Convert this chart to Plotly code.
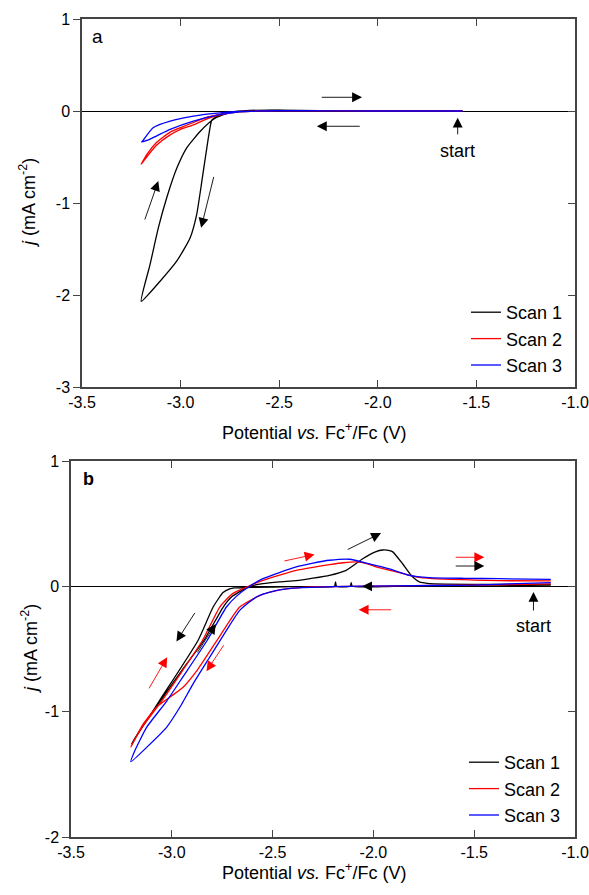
import plotly.graph_objects as go

# ---------------- Panel a data ----------------
A_SCAN1_V = [-1.57, -2.0, -2.4, -2.55, -2.65, -2.72, -2.76, -2.80, -2.825, -2.842, -2.867, -2.892, -2.918, -2.952, -3.019, -3.104, -3.200,
             -3.155, -3.113, -3.070, -3.019, -2.969, -2.900, -2.833, -2.783, -2.730, -2.650, -2.500, -2.300, -2.000, -1.570]
A_SCAN1_J = [0.0, 0.0, 0.004, 0.01, 0.006, -0.004, -0.015, -0.04, -0.07, -0.10, -0.40, -0.76, -1.12, -1.38, -1.63, -1.85, -2.07,
             -1.67, -1.27, -0.94, -0.62, -0.40, -0.22, -0.09, -0.04, -0.01, 0.002, 0.01, 0.005, 0.0, 0.0]

A_SCAN2_V = [-1.57, -2.0, -2.4, -2.6, -2.7, -2.78, -2.86, -2.935, -3.0, -3.053, -3.121, -3.172, -3.20,
             -3.17, -3.121, -3.053, -3.0, -2.935, -2.86, -2.78, -2.7, -2.6, -2.4, -2.0, -1.57]
A_SCAN2_J = [0.0, 0.0, 0.004, 0.0, -0.01, -0.035, -0.08, -0.15, -0.2, -0.26, -0.37, -0.5, -0.58,
             -0.47, -0.34, -0.23, -0.18, -0.125, -0.065, -0.025, -0.005, 0.0, 0.004, 0.0, 0.0]

A_SCAN3_V = [-1.57, -2.0, -2.4, -2.6, -2.7, -2.80, -2.935, -3.053, -3.121, -3.17, -3.197,
             -3.19, -3.17, -3.138, -3.053, -2.935, -2.80, -2.7, -2.6, -2.4, -2.0, -1.57]
A_SCAN3_J = [0.0, 0.0, 0.004, 0.0, -0.01, -0.04, -0.11, -0.20, -0.27, -0.32, -0.335,
             -0.32, -0.26, -0.18, -0.11, -0.055, -0.02, -0.005, 0.0, 0.004, 0.0, 0.0]

# ---------------- Panel b data ----------------
B_SCAN1_V = [-1.12, -1.5, -1.9, -2.105, -2.11, -2.115, -2.183, -2.188, -2.193, -2.4, -2.6, -2.69, -2.713, -2.746, -2.795, -2.870, -3.063, -3.20,
             -3.15, -3.05, -2.95, -2.84, -2.745, -2.70, -2.65, -2.614, -2.548, -2.465, -2.383, -2.30, -2.218, -2.135, -2.053, -1.990, -1.954,
             -1.920, -1.904, -1.855, -1.813, -1.772, -1.723, -1.64, -1.40, -1.12]
B_SCAN1_J = [0.01, 0.003, 0.0, 0.0, 0.03, 0.0, 0.0, 0.035, 0.0, -0.003, -0.008, -0.013, -0.02, -0.05, -0.165, -0.432, -0.917, -1.26,
             -1.13, -0.90, -0.67, -0.43, -0.165, -0.08, -0.03, 0.0, 0.021, 0.035, 0.045, 0.065, 0.088, 0.128, 0.22, 0.275, 0.290,
             0.285, 0.275, 0.18, 0.088, 0.035, 0.022, 0.018, 0.015, 0.013]

B_SCAN2_V = [-1.12, -1.5, -1.9, -2.1, -2.3, -2.45, -2.55, -2.663, -2.776, -2.87, -2.944, -3.01, -3.076, -3.142, -3.203,
             -3.15, -3.051, -2.95, -2.848, -2.762, -2.70, -2.62, -2.548, -2.465, -2.383, -2.30, -2.218, -2.15, -2.086, -2.03,
             -1.987, -1.888, -1.789, -1.706, -1.50, -1.376, -1.12]
B_SCAN2_J = [0.02, 0.01, 0.004, 0.0, -0.005, -0.025, -0.065, -0.165, -0.432, -0.66, -0.805, -0.885, -0.965, -1.10, -1.28,
             -1.13, -0.917, -0.68, -0.432, -0.165, -0.06, 0.0, 0.048, 0.09, 0.128, 0.152, 0.173, 0.188, 0.195, 0.18,
             0.155, 0.115, 0.075, 0.061, 0.05, 0.045, 0.043]

B_SCAN3_V = [-1.12, -1.5, -1.9, -2.2, -2.4, -2.50, -2.581, -2.663, -2.729, -2.812, -2.895, -2.960, -3.026, -3.125, -3.203,
             -3.183, -3.125, -3.026, -2.944, -2.825, -2.729, -2.68, -2.614, -2.548, -2.383, -2.30, -2.218, -2.119, -2.020,
             -1.921, -1.822, -1.723, -1.55, -1.376, -1.12]
B_SCAN3_J = [0.03, 0.01, 0.004, -0.002, -0.015, -0.04, -0.085, -0.192, -0.352, -0.565, -0.78, -0.965, -1.125, -1.285, -1.40,
             -1.31, -1.125, -0.917, -0.72, -0.432, -0.165, -0.08, 0.0, 0.061, 0.155, 0.185, 0.208, 0.216, 0.18,
             0.14, 0.088, 0.07, 0.064, 0.061, 0.056]

SCAN_NAMES = ["Scan 1", "Scan 2", "Scan 3"]
SCAN_COLORS = ["#000000", "#ff0000", "#0000ff"]

X_TICKS = [-3.5, -3.0, -2.5, -2.0, -1.5, -1.0]
X_TICK_TEXT = ["-3.5", "-3.0", "-2.5", "-2.0", "-1.5", "-1.0"]
A_Y_TICKS = [-3, -2, -1, 0, 1]
A_Y_TICK_TEXT = ["-3", "-2", "-1", "0", "1"]
B_Y_TICKS = [-2, -1, 0, 1]
B_Y_TICK_TEXT = ["-2", "-1", "0", "1"]

# arrows: (tail_x, tail_y, head_x, head_y, color)
ARROWS_A = [
    (-3.184, -1.196, -3.113, -0.761, "black"),
    (-2.830, -0.70, -2.896, -1.27, "black"),
    (-2.292, 0.149, -2.080, 0.149, "black"),
    (-2.084, -0.166, -2.309, -0.166, "black"),
    (-1.595, -0.27, -1.595, -0.073, "black"),
]
ARROWS_B = [
    (-2.135, 0.288, -1.962, 0.425, "black"),
    (-2.449, 0.200, -2.292, 0.254, "red"),
    (-1.599, 0.232, -1.450, 0.232, "red"),
    (-1.599, 0.162, -1.450, 0.162, "black"),
    (-1.904, -0.187, -2.073, -0.187, "red"),
    (-1.990, 0.0, -2.056, 0.0, "black"),
    (-1.206, -0.205, -1.206, -0.045, "black"),
    (-2.881, -0.20, -2.977, -0.44, "black"),
    (-2.878, -0.54, -2.782, -0.30, "black"),
    (-3.117, -0.826, -3.023, -0.565, "red"),
    (-2.738, -0.458, -2.828, -0.677, "red"),
]

FONT = "Liberation Sans, Arial, sans-serif"
W, H = 589, 895

fig = go.Figure()

a_data = [(A_SCAN1_V, A_SCAN1_J), (A_SCAN2_V, A_SCAN2_J), (A_SCAN3_V, A_SCAN3_J)]
b_data = [(B_SCAN1_V, B_SCAN1_J), (B_SCAN2_V, B_SCAN2_J), (B_SCAN3_V, B_SCAN3_J)]

for (v, j), name, col in zip(a_data, SCAN_NAMES, SCAN_COLORS):
    fig.add_trace(go.Scatter(x=v, y=j, mode="lines", name=name,
                             line=dict(color=col, width=1.3, shape="spline", smoothing=0.5),
                             xaxis="x", yaxis="y", legend="legend"))
for (v, j), name, col in zip(b_data, SCAN_NAMES, SCAN_COLORS):
    fig.add_trace(go.Scatter(x=v, y=j, mode="lines", name=name,
                             line=dict(color=col, width=1.3, shape="spline", smoothing=0.5),
                             xaxis="x2", yaxis="y2", legend="legend2"))

AX_COL = "#444444"
TICK_FONT = dict(family=FONT, size=16, color="black")
common_x = dict(range=[-3.5, -1.0], tickvals=X_TICKS, ticktext=X_TICK_TEXT, ticks="inside", ticklen=7,
                tickwidth=1, tickcolor=AX_COL, showline=True, linecolor=AX_COL, linewidth=1.5, mirror="ticks",
                showgrid=False, zeroline=False, tickfont=TICK_FONT, automargin=False)
common_y = dict(ticks="outside", ticklen=7, tickwidth=1, tickcolor=AX_COL, showline=True, linecolor=AX_COL,
                linewidth=1.5, mirror=True, showgrid=False, zeroline=True, zerolinecolor="black", zerolinewidth=1,
                tickfont=TICK_FONT, automargin=False)
right_y = dict(ticks="inside", ticklen=7, tickwidth=1, tickcolor=AX_COL, showline=False, showgrid=False,
               zeroline=False, showticklabels=False, side="right", automargin=False)

xa = [82 / W, 575 / W]
xb = [71 / W, 575 / W]
ya = [1 - 387 / H, 1 - 19 / H]
yb = [1 - 837 / H, 1 - 461 / H]

fig.update_layout(
    width=W, height=H, margin=dict(l=0, r=0, t=0, b=0, autoexpand=False),
    paper_bgcolor="white", plot_bgcolor="white",
    font=dict(family=FONT, size=16, color="black"),
    xaxis=dict(domain=xa, anchor="y", **common_x),
    yaxis=dict(domain=ya, anchor="x", range=[-3, 1], tickvals=A_Y_TICKS, ticktext=A_Y_TICK_TEXT, **common_y),
    xaxis2=dict(domain=xb, anchor="y2", **common_x),
    yaxis2=dict(domain=yb, anchor="x2", range=[-2, 1], tickvals=B_Y_TICKS, ticktext=B_Y_TICK_TEXT, **common_y),
    yaxis3=dict(overlaying="y", anchor="x", range=[-3, 1], tickvals=A_Y_TICKS, **right_y),
    yaxis4=dict(overlaying="y2", anchor="x2", range=[-2, 1], tickvals=B_Y_TICKS, **right_y),
    legend=dict(x=466 / W, y=1 - 294 / H, xanchor="left", yanchor="top", bgcolor="rgba(0,0,0,0)",
                font=dict(family=FONT, size=18), tracegroupgap=0),
    legend2=dict(x=464 / W, y=1 - 744 / H, xanchor="left", yanchor="top", bgcolor="rgba(0,0,0,0)",
                 font=dict(family=FONT, size=18), tracegroupgap=0),
    showlegend=True,
)

# dummy traces so overlay right axes render
fig.add_trace(go.Scatter(x=[None], y=[None], xaxis="x", yaxis="y3", showlegend=False, hoverinfo="skip"))
fig.add_trace(go.Scatter(x=[None], y=[None], xaxis="x2", yaxis="y4", showlegend=False, hoverinfo="skip"))

annotations = []
for arrows, xr, yr in [(ARROWS_A, "x", "y"), (ARROWS_B, "x2", "y2")]:
    for tx, ty, hx, hy, col in arrows:
        annotations.append(dict(x=hx, y=hy, ax=tx, ay=ty, xref=xr, yref=yr, axref=xr, ayref=yr,
                                text="", showarrow=True, arrowhead=2, arrowsize=2.2, arrowwidth=0.9,
                                arrowcolor=col))

annotations += [
    dict(x=-1.595, y=-0.435, xref="x", yref="y", text="start", showarrow=False,
         font=dict(family=FONT, size=18)),
    dict(x=-1.206, y=-0.318, xref="x2", yref="y2", text="start", showarrow=False,
         font=dict(family=FONT, size=18)),
    dict(x=-3.46, y=0.815, xref="x", yref="y", text="a", showarrow=False, xanchor="left",
         font=dict(family=FONT, size=19)),
    dict(x=-3.45, y=0.86, xref="x2", yref="y2", text="<b>b</b>", showarrow=False, xanchor="left",
         font=dict(family=FONT, size=18)),
    dict(x=314 / W, y=1 - 432 / H, xref="paper", yref="paper", showarrow=False, xanchor="center",
         text="Potential <i>vs.</i> Fc<sup>+</sup>/Fc (V)", font=dict(family=FONT, size=18)),
    dict(x=314 / W, y=1 - 885 / H, xref="paper", yref="paper", showarrow=False, xanchor="center",
         text="Potential <i>vs.</i> Fc<sup>+</sup>/Fc (V)", font=dict(family=FONT, size=18)),
    dict(x=27 / W, y=1 - 203 / H, xref="paper", yref="paper", showarrow=False, textangle=-90,
         xanchor="center", yanchor="middle",
         text="<i>j</i> (mA cm<sup>-2</sup>)", font=dict(family=FONT, size=18)),
    dict(x=29 / W, y=1 - 649 / H, xref="paper", yref="paper", showarrow=False, textangle=-90,
         xanchor="center", yanchor="middle",
         text="<i>j</i> (mA cm<sup>-2</sup>)", font=dict(family=FONT, size=18)),
]
fig.update_layout(annotations=annotations)

fig.write_html("out.html", config={"displayModeBar": False},
               post_script="document.body.style.margin='0';document.body.style.padding='0';"
                           "document.body.style.overflow='hidden';")
